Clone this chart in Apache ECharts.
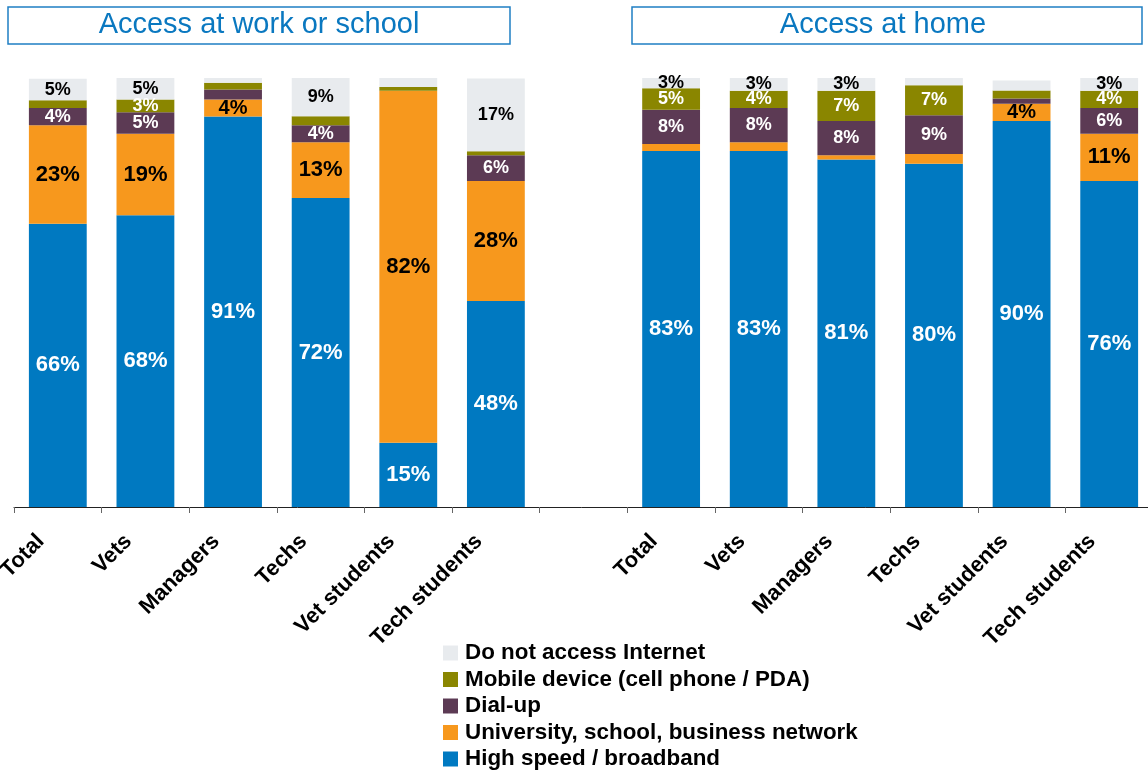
<!DOCTYPE html>
<html>
<head>
<meta charset="utf-8">
<script src="https://cdn.jsdelivr.net/npm/echarts@6/dist/echarts.min.js"></script>
<style>
  html, body { margin: 0; padding: 0; background: #fff; }
  #chart { width: 1148px; height: 773px; }
</style>
</head>
<body>
<div id="chart"></div>
<script>
// Respondent groups; the same groups are shown for work/school and for home
const groups = ['Total', 'Vets', 'Managers', 'Techs', 'Vet students', 'Tech students'];

// Share of respondents (%) by type of Internet access
const highSpeedWork = [66, 68, 91, 72, 15, 48];
const highSpeedHome = [83, 83, 81, 80, 90, 76];
const networkWork   = [23, 19, 4, 13, 82, 28];
const networkHome   = [1.6, 2, 1, 2.3, 4, 11];
const dialupWork    = [4, 5, 2.3, 4, 0, 6];
const dialupHome    = [8, 8, 8, 9, 1.2, 6];
const mobileWork    = [1.8, 3, 1.6, 2.1, 0.9, 0.9];
const mobileHome    = [5, 4, 7, 7, 1.9, 4];
const noneWork      = [5, 5, 1.2, 9, 2.3, 17];
const noneHome      = [3, 3, 3, 2.3, 2.3, 3];

const panelTitles = ['Access at work or school', 'Access at home'];
const seriesNames = [
  'High speed / broadband',
  'University, school, business network',
  'Dial-up',
  'Mobile device (cell phone / PDA)',
  'Do not access Internet'
];

// Work panel, an empty spacer slot, then the home panel
const categories = groups.concat([''], groups);

const FONT = '"Liberation Sans", Arial, sans-serif';

function joinPanels(work, home) {
  return work.concat([null], home);
}

// Segments of 3% or more carry a value label
function buildData(values, bigSize, smallSize) {
  return values.map(function (v) {
    if (v === null) return null;
    return {
      value: v,
      label: {
        show: v >= 3,
        fontSize: v >= 10 ? bigSize : smallSize
      }
    };
  });
}

const seriesDefs = [
  { name: seriesNames[0], work: highSpeedWork, home: highSpeedHome, color: '#0079C1', text: '#ffffff', big: 22, small: 22 },
  { name: seriesNames[1], work: networkWork,   home: networkHome,   color: '#F7981D', text: '#000000', big: 22, small: 20 },
  { name: seriesNames[2], work: dialupWork,    home: dialupHome,    color: '#5C3A54', text: '#ffffff', big: 18, small: 18 },
  { name: seriesNames[3], work: mobileWork,    home: mobileHome,    color: '#8A8600', text: '#ffffff', big: 18, small: 18 },
  { name: seriesNames[4], work: noneWork,      home: noneHome,      color: '#E8EBEE', text: '#000000', big: 18, small: 18 }
];

const series = seriesDefs.map(function (d) {
  return {
    name: d.name,
    type: 'bar',
    stack: 'access',
    barWidth: '66%',
    itemStyle: { color: d.color },
    label: {
      position: 'inside',
      color: d.text,
      fontFamily: FONT,
      fontWeight: 'bold',
      formatter: '{c}%'
    },
    data: buildData(joinPanels(d.work, d.home), d.big, d.small)
  };
});

const chart = echarts.init(document.getElementById('chart'), null, { renderer: 'canvas' });

chart.setOption({
  backgroundColor: '#ffffff',
  animation: false,
  textStyle: { fontFamily: FONT },
  grid: {
    left: 14,
    right: -5,
    top: 78,
    bottom: 266,
    containLabel: false,
    outerBoundsMode: 'none'
  },
  xAxis: {
    type: 'category',
    data: categories,
    axisLine: { show: true, lineStyle: { color: '#222', width: 1 } },
    axisTick: { show: true, alignWithLabel: false, length: 6, lineStyle: { color: '#666' } },
    axisLabel: {
      interval: 0,
      rotate: 45,
      margin: 14,
      padding: [0, 24, 0, 0],
      color: '#000',
      fontFamily: FONT,
      fontWeight: 'bold',
      fontSize: 22
    }
  },
  yAxis: { type: 'value', min: 0, max: 100, show: false },
  legend: {
    orient: 'vertical',
    left: 443,
    top: 642,
    padding: 0,
    icon: 'rect',
    itemWidth: 15,
    itemHeight: 15,
    itemGap: 4.5,
    data: seriesNames.slice().reverse(),
    textStyle: {
      color: '#000', fontFamily: FONT, fontWeight: 'bold', fontSize: 22.4, lineHeight: 22,
      padding: [0, 0, 0, 2]
    }
  },
  graphic: [
    { type: 'rect', shape: { x: 8, y: 7, width: 502, height: 37 }, style: { fill: '#fff', stroke: '#1F7FC4', lineWidth: 1.5 } },
    { type: 'text', x: 259, y: 25, style: { text: panelTitles[0], fill: '#0A78C0', font: '29px ' + FONT, textAlign: 'center', textVerticalAlign: 'middle' } },
    { type: 'rect', shape: { x: 632, y: 7, width: 510, height: 37 }, style: { fill: '#fff', stroke: '#1F7FC4', lineWidth: 1.5 } },
    { type: 'text', x: 883, y: 25, style: { text: panelTitles[1], fill: '#0A78C0', font: '29px ' + FONT, textAlign: 'center', textVerticalAlign: 'middle' } }
  ],
  series: series
});
</script>
</body>
</html>
